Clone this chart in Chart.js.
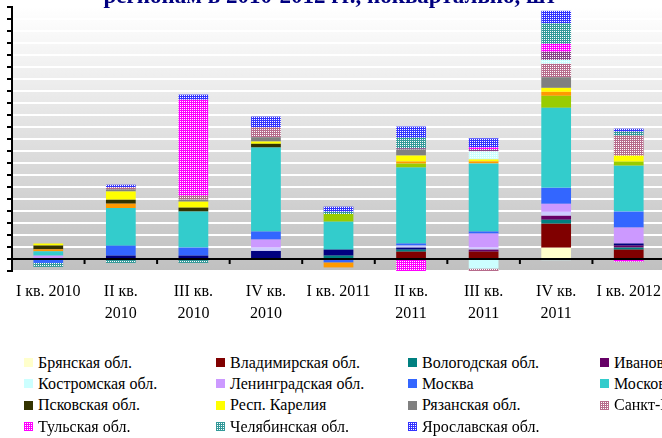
<!DOCTYPE html>
<html>
<head>
<meta charset="utf-8">
<script src="https://cdn.jsdelivr.net/npm/chart.js@4"></script>
<style>
  html, body { margin: 0; padding: 0; width: 662px; height: 438px; overflow: hidden; background: #fff; }
  #chart { position: absolute; left: 7px; top: 0; }
  #title { position: absolute; left: 0; top: -16px; width: 660px; text-align: center; white-space: nowrap;
           font: bold 23px "Liberation Serif", serif; line-height: 23px; color: #000080; }
  #legend { position: absolute; left: 24px; top: 352px; display: grid;
            grid-template-columns: repeat(6, 192px); grid-auto-rows: 21.3px;
            font: 16px "Liberation Serif", serif; white-space: nowrap; }
  .item { display: flex; align-items: center; }
  .sw { width: 9px; height: 9px; margin-right: 5px; flex: none; }
</style>
</head>
<body>
<canvas id="chart" width="658" height="325" style="width:658px;height:325px"></canvas>
<div id="title">регионам в 2010-2012 гг., поквартально, шт</div>
<div id="legend"></div>
<script>
// quarters
const quarters = ['I кв. 2010', ['II кв.', '2010'], ['III кв.', '2010'], ['IV кв.', '2010'], 'I кв. 2011',
                  ['II кв.', '2011'], ['III кв.', '2011'], ['IV кв.', '2011'], 'I кв. 2012'];

// values per region, one per quarter
const bryansk     = [0, 0, 0, 0, 0, 0, 0, 9.4, 0];
const vladimir    = [0, 0, 0, 0, 0, 6.1, 6.1, 20, 7.8];
const vologda     = [0, 0, 0, 0, 2.8, 1.7, 0, 3.3, 1.7];
const ivanovo     = [0, 0, 0, 0, 0, 0, 1.7, 3.3, 1.7];
const kaliningrad = [0, 2.8, 2.8, 6.7, 5, 1.7, 0, 0, 1.7];
const kaluga      = [0, 0, 0, 2.8, 0, 1.7, 1.7, 3.3, 0];
const kostroma    = [0, 0, 0, 0, 0, 0, -8, -1, 0];
const leningrad   = [2.8, 0, 0, 6.7, 0, 0, 11.7, 6.7, 13.3];
const moscow      = [-3.3, 8.3, 6.7, 6.7, -2.8, 1.7, 1.7, 13.3, 13.3];
const moscowObl   = [3.6, 31.4, 30, 70, 23.3, 63.3, 56.7, 66.7, 38.3];
const nizhny      = [0, 0, 0, 0, 6.4, 3.3, 0, 10, 3.3];
const novgorod    = [1.7, 3.6, 0, 0, -4.2, 1.7, 1.7, 3.3, 0];
const pskov       = [3.1, 3.3, 3.3, 3.1, 0, 0, 0, 0, 0];
const karelia     = [1.7, 6.9, 5, 1.9, 0, 5, 1.7, 3.3, 5];
const ryazan      = [0, 1.7, 1.7, 3.6, 0, 5, 0, 8.9, 0];
const spb         = [0, 1.8, 3.3, 8.3, 0, 0, -3, 11.1, 16.7];
const smolensk    = [0, 0, 0, 0, 0, 0, 6.7, 3.3, 0];
const tver        = [0, 0, 0, 0, 0, 1.1, 1.7, 6.7, 0];
const tula        = [0, 0, 80, 0, 0, -11, 1.7, 6.7, -2.2];
const chelyabinsk = [-3.3, -3.3, -3.3, 0, 1.9, 8.7, 0, 17.1, 3.3];
const yaroslavl   = [0, 2.1, 4.2, 8.9, 4.2, 9.4, 7.5, 10.4, 2.5];

function checker(fg, size) {
    const c = document.createElement('canvas');
    c.width = size; c.height = size;
    const g = c.getContext('2d');
    g.fillStyle = fg; g.fillRect(0, 0, size, size);
    g.fillStyle = '#ffffff';
    for (let i = 1; i < size; i += 2)
        for (let j = 1; j < size; j += 2) g.fillRect(i, j, 1, 1);
    return c;
}

const ctx = document.getElementById('chart');
const c2d = ctx.getContext('2d');

// [label, data, solid colour or pattern foreground, patterned?]
const series = [
    ['Брянская обл.', bryansk, '#ffffcc'],
    ['Владимирская обл.', vladimir, '#800000'],
    ['Вологодская обл.', vologda, '#008080'],
    ['Ивановская обл.', ivanovo, '#660066'],
    ['Калининградская обл.', kaliningrad, '#000080'],
    ['Калужская обл.', kaluga, '#ccccff'],
    ['Костромская обл.', kostroma, '#ccffff'],
    ['Ленинградская обл.', leningrad, '#cc99ff'],
    ['Москва', moscow, '#3366ff'],
    ['Московская обл.', moscowObl, '#33cccc'],
    ['Нижегородская обл.', nizhny, '#99cc00'],
    ['Новгородская обл.', novgorod, '#ff9900'],
    ['Псковская обл.', pskov, '#333300'],
    ['Респ. Карелия', karelia, '#ffff00'],
    ['Рязанская обл.', ryazan, '#808080'],
    ['Санкт-Петербург', spb, '#b66b8b', true],
    ['Смоленская обл.', smolensk, '#ccffff', true],
    ['Тверская обл.', tver, '#884488', true],
    ['Тульская обл.', tula, '#ff00ff', true],
    ['Челябинская обл.', chelyabinsk, '#339999', true],
    ['Ярославская обл.', yaroslavl, '#3333ff', true]
];

const datasets = series.map(function(s) {
    let fill = s[2];
    if (s[3]) fill = c2d.createPattern(checker(s[2], 2), 'repeat');
    return { label: s[0], data: s[1], backgroundColor: fill, borderWidth: 0 };
});

const plotBackground = {
    id: 'plotBackground',
    beforeDraw(chart) {
        const a = chart.chartArea, g = chart.ctx;
        const grad = g.createLinearGradient(0, a.top, 0, a.bottom);
        grad.addColorStop(0, '#ffffff');
        grad.addColorStop(1, '#c0c0c0');
        g.save();
        g.fillStyle = grad;
        g.fillRect(a.left, a.top, a.right - a.left, a.bottom - a.top);
        g.restore();
    }
};

const zeroAxis = {
    id: 'zeroAxis',
    afterDatasetsDraw(chart) {
        const a = chart.chartArea, g = chart.ctx, x = chart.scales.x;
        const y0 = chart.scales.y.getPixelForValue(0);
        const step = (x.right - x.left) / quarters.length;
        g.save();
        g.strokeStyle = '#000000';
        g.lineWidth = 2;
        g.beginPath();
        g.moveTo(a.left, y0); g.lineTo(a.right, y0);
        for (let i = 1; i <= quarters.length; i++) {
            g.moveTo(x.left + i * step, y0);
            g.lineTo(x.left + i * step, y0 + 5);
        }
        g.stroke();
        g.restore();
    }
};

Chart.defaults.font.family = '"Liberation Serif", serif';

new Chart(ctx, {
    type: 'bar',
    data: { labels: quarters, datasets: datasets },
    options: {
        responsive: false,
        animation: false,
        devicePixelRatio: 1,
        categoryPercentage: 1,
        barPercentage: 0.41,
        layout: { padding: { top: 7, left: 0, right: 0, bottom: 0 } },
        plugins: { legend: { display: false }, tooltip: { enabled: false } },
        scales: {
            x: {
                stacked: true,
                grid: { display: false },
                border: { display: false },
                ticks: { color: '#000000', autoSkip: false, maxRotation: 0, padding: 2,
                         font: { size: 16, lineHeight: 1.35 } },
                afterFit(s) { s.height = 54; }
            },
            y: {
                stacked: true,
                min: -10,
                max: 210,
                ticks: { display: false, stepSize: 10 },
                grid: { color: '#ffffff', lineWidth: 2, tickColor: '#000000', tickLength: 5, tickWidth: 2 },
                border: { color: '#000000', width: 2 },
                afterFit(s) { s.width = 5; }
            }
        }
    },
    plugins: [plotBackground, zeroAxis]
});

// legend
const legend = document.getElementById('legend');
series.forEach(function(s) {
    const item = document.createElement('div');
    item.className = 'item';
    let sw;
    if (s[3]) {
        sw = checker(s[2], 9);
    } else {
        sw = document.createElement('span');
        sw.style.background = s[2];
    }
    sw.className = 'sw';
    item.appendChild(sw);
    item.appendChild(document.createTextNode(s[0]));
    legend.appendChild(item);
});
</script>
</body>
</html>
